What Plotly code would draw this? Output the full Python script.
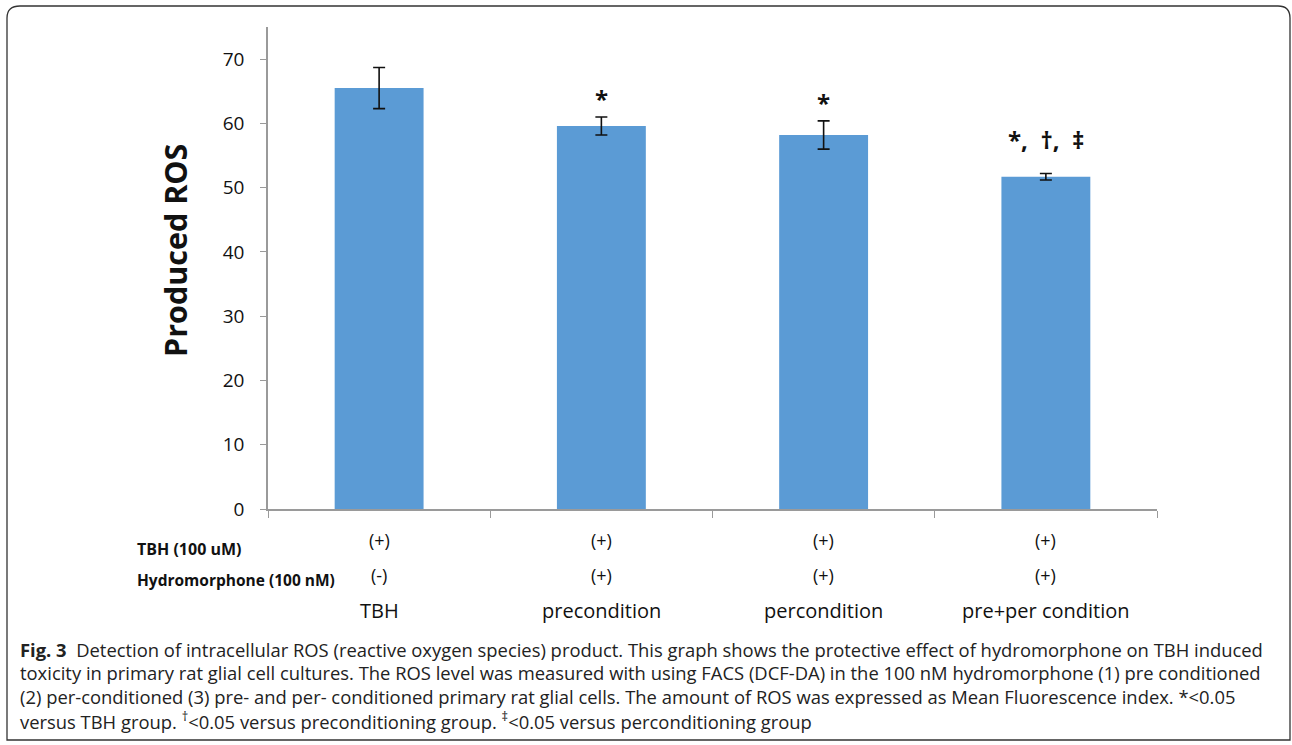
import plotly.graph_objects as go

# Group names, mean ROS and error (SD) values
groups = ["TBH", "precondition", "percondition", "pre+per condition"]
ros_mean = [65.5, 59.6, 58.2, 51.7]
ros_err = [3.2, 1.4, 2.2, 0.5]
tbh_flags = ["(+)", "(+)", "(+)", "(+)"]
hydro_flags = ["(-)", "(+)", "(+)", "(+)"]
sig_marks = ["", "*", "*", "*,  †,  ‡"]
sig_shift = [0, 0, 0, 16]
y_ticks = [0, 10, 20, 30, 40, 50, 60, 70]

caption_lines = [
    "<b>Fig. 3</b>  Detection of intracellular ROS (reactive oxygen species) product. This graph shows the protective effect of hydromorphone on TBH induced",
    "toxicity in primary rat glial cell cultures. The ROS level was measured with using FACS (DCF-DA) in the 100 nM hydromorphone (1) pre conditioned",
    "(2) per-conditioned (3) pre- and per- conditioned primary rat glial cells. The amount of ROS was expressed as Mean Fluorescence index. *<0.05",
    "versus TBH group. <sup>†</sup><0.05 versus preconditioning group. <sup>‡</sup><0.05 versus perconditioning group",
]

W, H = 1292, 745
FONT = "Open Sans"
xpos = list(range(len(groups)))


def px_x(px):
    return px / W


def px_y(py):
    return 1 - py / H


fig = go.Figure()
fig.add_trace(go.Bar(
    x=xpos, y=ros_mean,
    width=0.4,
    marker=dict(color="#5B9BD5", line=dict(width=0)),
    error_y=dict(type="data", array=ros_err, visible=True,
                 color="#111111", thickness=1.6, width=6),
    hoverinfo="skip",
))

annotations = []
# significance markers above error bars
for x, m, v, e, s in zip(xpos, sig_marks, ros_mean, ros_err, sig_shift):
    if m:
        annotations.append(dict(x=x, y=v + e, xref="x", yref="y", text="<b>" + m + "</b>",
                                showarrow=False, yanchor="bottom", yshift=s,
                                font=dict(family=FONT, size=24, color="#111111")))

# treatment rows under the axis
for x, t, h, g in zip(xpos, tbh_flags, hydro_flags, groups):
    annotations.append(dict(x=x, y=px_y(540), xref="x", yref="paper", text=t,
                            showarrow=False, yanchor="middle",
                            font=dict(family=FONT, size=18, color="#111111")))
    annotations.append(dict(x=x, y=px_y(575), xref="x", yref="paper", text=h,
                            showarrow=False, yanchor="middle",
                            font=dict(family=FONT, size=18, color="#111111")))
    annotations.append(dict(x=x, y=px_y(610), xref="x", yref="paper", text=g,
                            showarrow=False, yanchor="middle",
                            font=dict(family=FONT, size=20, color="#111111")))

annotations.append(dict(x=px_x(135), y=px_y(549), xref="paper", yref="paper",
                        text="<b>TBH (100 uM)</b>", showarrow=False, xanchor="left",
                        yanchor="middle", font=dict(family=FONT, size=16, color="#111111")))
annotations.append(dict(x=px_x(135), y=px_y(580), xref="paper", yref="paper",
                        text="<b>Hydromorphone (100 nM)</b>", showarrow=False, xanchor="left",
                        yanchor="middle", font=dict(family=FONT, size=15.5, color="#111111")))

# y-axis title
annotations.append(dict(x=px_x(175), y=px_y(251), xref="paper", yref="paper",
                        text="<b>Produced ROS</b>", showarrow=False, textangle=-90,
                        xanchor="center", yanchor="middle",
                        font=dict(family=FONT, size=30.5, color="#111111")))

# caption lines
for i, line in enumerate(caption_lines):
    annotations.append(dict(x=px_x(18), y=px_y(649 + i * 23.7), xref="paper", yref="paper",
                            text=line, showarrow=False, xanchor="left", yanchor="middle",
                            font=dict(family=FONT, size=18.4, color="#222222")))

fig.update_layout(
    width=W, height=H, autosize=False,
    margin=dict(l=0, r=0, t=0, b=0),
    paper_bgcolor="white", plot_bgcolor="white",
    showlegend=False,
    xaxis=dict(domain=[px_x(268), px_x(1157)], range=[-0.5, 3.5],
               tickvals=[-0.5, 0.5, 1.5, 2.5, 3.5],
               ticktext=["", "", "", "", ""], ticks="outside", ticklen=7,
               tickcolor="#9a9a9a", showline=True, linecolor="#9a9a9a", linewidth=1.5,
               showgrid=False, zeroline=False, fixedrange=True, automargin=False),
    yaxis=dict(domain=[px_y(509), px_y(27)], range=[0, 75], tickvals=y_ticks,
               ticks="outside", ticklen=6, ticklabelstandoff=12,
               tickcolor="#9a9a9a", showline=True, linecolor="#9a9a9a", linewidth=1.5,
               showgrid=False, zeroline=False, automargin=False,
               tickfont=dict(family=FONT, size=19, color="#111111"),
               fixedrange=True),
    annotations=annotations,
    shapes=[dict(type="path", xref="paper", yref="paper",
                 path=("M {l},{t} H {r} Q {R},{t} {R},{t2} V {b} H {L} V {t2} Q {L},{t} {l},{t} Z").format(
                     l=px_x(20), r=px_x(1278), R=px_x(1290), L=px_x(7),
                     t=px_y(6), t2=px_y(18), b=px_y(740)),
                 line=dict(color="#333333", width=1.3), layer="below")],
)

fig.write_html("out.html")
